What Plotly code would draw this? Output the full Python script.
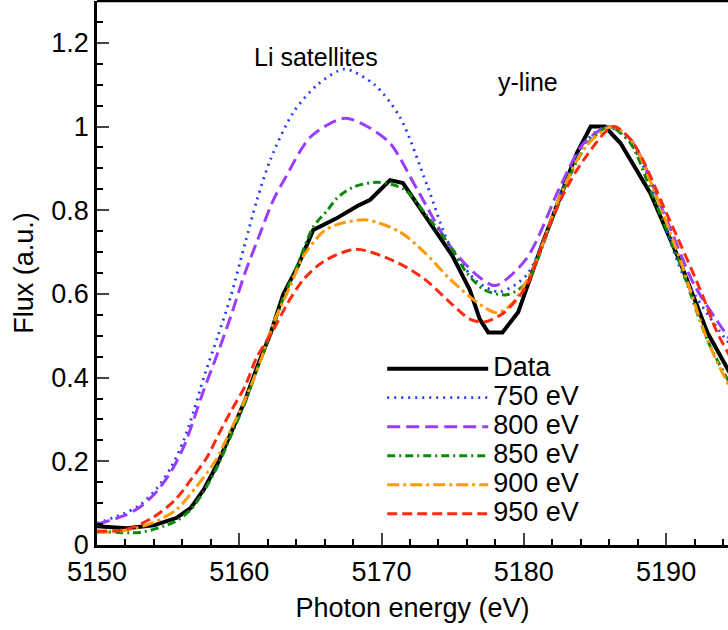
import plotly.graph_objects as go

# ---- data ----
data_x = [5150, 5152.1, 5154, 5155.6, 5156.6, 5157.5, 5158.5, 5159.4, 5160.4, 5161.25, 5162.2, 5163.1,
          5164.1, 5165.2, 5166.8, 5168.3, 5169.2, 5170.6, 5171.5, 5173.2, 5175.0, 5176.2, 5176.9,
          5177.5, 5178.5, 5179.6, 5181.3, 5183.7, 5184.7, 5185.7, 5186.8, 5188.9, 5191.0, 5192.9, 5194.5]
data_y = [0.045, 0.040, 0.047, 0.065, 0.089, 0.132, 0.196, 0.264, 0.345, 0.425, 0.506, 0.60,
          0.665, 0.753, 0.78, 0.81, 0.825, 0.872, 0.865, 0.78, 0.69, 0.61, 0.54,
          0.508, 0.508, 0.556, 0.72, 0.935, 1.0, 1.0, 0.96, 0.84, 0.675, 0.508, 0.41]

e750_x = [5150, 5151.9, 5153, 5154.2, 5155.2, 5156.1, 5156.8, 5157.5, 5158.5, 5159.4, 5160.4, 5161.25,
          5162.2, 5163.8, 5165.5, 5167.4, 5169.5, 5171.3, 5173.2, 5174.8, 5176.7, 5178.3, 5180.2,
          5181.8, 5183.2, 5184.5, 5185.8, 5187.3, 5188.9, 5191.2, 5194.0, 5194.5]
e750_y = [0.052, 0.075, 0.095, 0.135, 0.185, 0.25, 0.32, 0.40, 0.50, 0.594, 0.72, 0.825,
          0.922, 1.034, 1.10, 1.137, 1.10, 1.022, 0.86, 0.716, 0.63, 0.605, 0.645,
          0.765, 0.89, 0.97, 1.0, 0.97, 0.867, 0.645, 0.50, 0.48]

e800_x = [5150, 5151.9, 5153, 5154.2, 5155.2, 5156.1, 5156.8, 5157.5, 5158.5, 5159.4, 5160.4, 5161.3,
          5162.4, 5163.2, 5165, 5167.4, 5169, 5170.6, 5172.5, 5174.8, 5176.7, 5178, 5180.2,
          5182.6, 5184.2, 5186, 5187.5, 5190, 5192, 5194, 5194.5]
e800_y = [0.05, 0.07, 0.09, 0.128, 0.175, 0.235, 0.30, 0.37, 0.46, 0.546, 0.65, 0.73,
          0.825, 0.875, 0.975, 1.02, 1.0, 0.96, 0.85, 0.715, 0.645, 0.62, 0.685,
          0.86, 0.96, 1.0, 0.97, 0.78, 0.62, 0.515, 0.49]

e850_x = [5150, 5153, 5154.7, 5155.6, 5156.6, 5157.5, 5158.5, 5159.4, 5160.4, 5161.25, 5162.2, 5163.1,
          5164.1, 5165.2, 5166.2, 5166.9, 5168, 5169.7, 5171.6, 5173, 5174.8, 5176, 5177.2,
          5178.8, 5180.2, 5181.8, 5183.2, 5184.5, 5186, 5187.5, 5189, 5191, 5192.9, 5194.5]
e850_y = [0.033, 0.030, 0.045, 0.058, 0.085, 0.128, 0.19, 0.26, 0.34, 0.42, 0.505, 0.59,
          0.67, 0.76, 0.80, 0.83, 0.855, 0.867, 0.85, 0.795, 0.715, 0.65, 0.61,
          0.598, 0.627, 0.76, 0.88, 0.96, 1.0, 0.96, 0.84, 0.67, 0.49, 0.385]

e900_x = [5150, 5152, 5154, 5155.6, 5157.0, 5158.3, 5159.4, 5160.5, 5161.5, 5162.4, 5163.6, 5164.5,
          5165.9, 5166.8, 5168.9, 5171.3, 5173, 5174.8, 5176.7, 5178.1, 5179.2, 5180.7, 5182.5,
          5184.3, 5186.2, 5187.6, 5189, 5191, 5192.9, 5194.5]
e900_y = [0.030, 0.035, 0.054, 0.085, 0.14, 0.20, 0.275, 0.355, 0.44, 0.53, 0.62, 0.69,
          0.749, 0.765, 0.777, 0.748, 0.70, 0.636, 0.58, 0.555, 0.578, 0.665, 0.83,
          0.95, 1.0, 0.965, 0.86, 0.68, 0.49, 0.375]

e950_x = [5150, 5152, 5153.9, 5155.5, 5156.6, 5157.7, 5158.6, 5159.4, 5160.4, 5161.25, 5162.4, 5163.4,
          5164.5, 5165.9, 5168.2, 5171.1, 5173, 5174.8, 5176.2, 5177.2, 5178.6, 5180.2, 5181.3,
          5182.8, 5184.2, 5186.3, 5187.7, 5190, 5192.4, 5193.6, 5194.5]
e950_y = [0.033, 0.037, 0.065, 0.108, 0.156, 0.208, 0.268, 0.319, 0.379, 0.45, 0.514, 0.578,
          0.634, 0.677, 0.707, 0.675, 0.636, 0.58, 0.54, 0.533, 0.555, 0.62, 0.72,
          0.84, 0.92, 1.0, 0.96, 0.795, 0.61, 0.507, 0.45]

series_names = ["750 eV", "800 eV", "850 eV", "900 eV", "950 eV"]
x_ticks = [5150, 5160, 5170, 5180, 5190]
y_ticks = [0, 0.2, 0.4, 0.6, 0.8, 1, 1.2]
y_ticklabels = ["0", "0.2", "0.4", "0.6", "0.8", "1", "1.2"]

FONT = "Liberation Sans, Arial, Helvetica, sans-serif"
LEGSIZE = 27

def leg(name):
    return '<span style="font-size:%dpx">%s</span>' % (LEGSIZE, name)

fig = go.Figure()
styles = [
    (e750_x, e750_y, "#1f3dff", "2px,5px", 2.8),
    (e800_x, e800_y, "#9b3dff", "13px,6px", 3.0),
    (e850_x, e850_y, "#0a8a0a", "8px,4px,2px,4px", 3.0),
    (e900_x, e900_y, "#ff9a00", "12px,4px,3px,4px", 3.0),
    (e950_x, e950_y, "#ff2a10", "10px,5px", 3.0),
]
fig.add_trace(go.Scatter(x=data_x, y=data_y, mode="lines", name=leg("Data"),
                         line=dict(color="black", width=4)))
for (xs, ys, col, dash, w), nm in zip(styles, series_names):
    fig.add_trace(go.Scatter(x=xs, y=ys, mode="lines", name=leg(nm),
                             line=dict(color=col, dash=dash, width=w, shape="spline", smoothing=0.8)))

fig.add_annotation(x=5165.4, y=1.166, text="Li satellites", showarrow=False,
                   font=dict(size=25, color="black", family=FONT))
fig.add_annotation(x=5180.3, y=1.106, text="y-line", showarrow=False,
                   font=dict(size=25, color="black", family=FONT))

# top frame line
fig.add_shape(type="line", xref="paper", yref="paper", x0=0, x1=1, y0=1, y1=1,
              line=dict(color="black", width=2.5))

fig.update_layout(
    width=728, height=630,
    margin=dict(l=97, r=0, t=1, b=85, autoexpand=False),
    plot_bgcolor="white", paper_bgcolor="white",
    font=dict(family=FONT, color="black", size=27),
    showlegend=True,
    legend=dict(x=0.452, y=0.36, xanchor="left", yanchor="top",
                bgcolor="rgba(0,0,0,0)", borderwidth=0,
                font=dict(size=20, family=FONT, color="black"),
                itemwidth=101, tracegroupgap=0),
)
fig.update_xaxes(range=[5150, 5194.35], tickvals=x_ticks, ticks="inside", ticklen=12, tickwidth=2,
                 showline=True, linewidth=2.5, linecolor="black", showgrid=False, zeroline=False,
                 tickfont=dict(size=27), ticklabelstandoff=1,
                 title=dict(text="Photon energy (eV)", font=dict(size=27), standoff=12),
                 minor=dict(dtick=2, ticks="inside", ticklen=6, tickwidth=1.5, tickcolor="black"),
                 automargin=False)
fig.update_yaxes(range=[0, 1.3], tickvals=y_ticks, ticktext=y_ticklabels, ticks="inside", ticklen=12,
                 tickwidth=2, showline=True, linewidth=2.5, linecolor="black", showgrid=False,
                 zeroline=False, tickfont=dict(size=27),
                 title=dict(text="Flux (a.u.)", font=dict(size=27), standoff=10),
                 minor=dict(dtick=0.05, ticks="inside", ticklen=6, tickwidth=1.5, tickcolor="black"),
                 automargin=False)

fig.write_html("out.html")
